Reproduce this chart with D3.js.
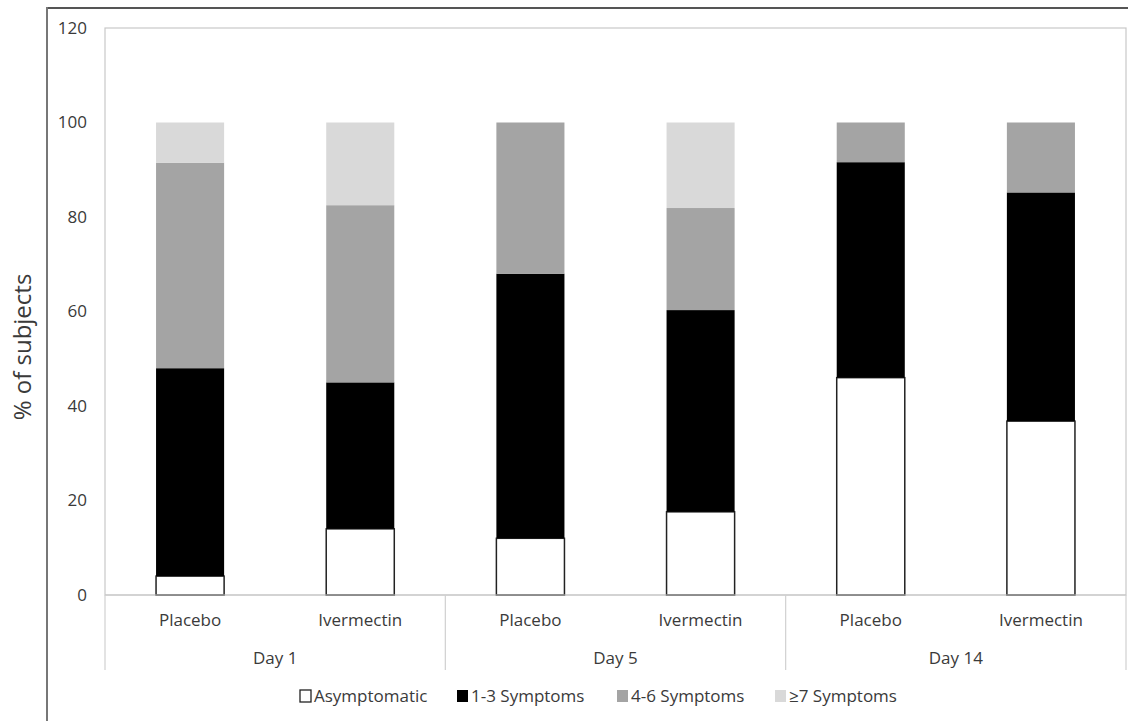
<!DOCTYPE html>
<html><head><meta charset="utf-8">
<script src="https://cdn.jsdelivr.net/npm/d3@7"></script>
<style>body{margin:0;background:#fff}text{font-family:"Open Sans",sans-serif;fill:#3a3a3a}</style>
</head><body><svg id="c" width="1139" height="721"></svg>
<script>
const days = ["Day 1","Day 5","Day 14"];
const arms = ["Placebo","Ivermectin"];
const seriesNames = ["Asymptomatic","1-3 Symptoms","4-6 Symptoms","≥7 Symptoms"];
const asymptomatic = [4, 14, 12, 17.6, 46, 36.8];
const sym1to3 = [44, 31, 56, 42.7, 45.6, 48.4];
const sym4to6 = [43.5, 37.5, 32, 21.6, 8.4, 14.8];
const sym7plus = [8.5, 17.5, 0, 18.1, 0, 0];
const yTicks = [0,20,40,60,80,100,120];
const colors = ["#ffffff","#000000","#a4a4a4","#d9d9d9"];

const svg = d3.select("#c");
const L=105, R=1126, T=28, B=595;
const cats = [];
days.forEach(d=>arms.forEach(a=>cats.push(d+"|"+a)));
const x = d3.scaleBand().domain(cats).range([L,R]).paddingInner(0).paddingOuter(0);
const y = d3.scaleLinear().domain([0,120]).range([B,T]);

// outer frame lines
svg.append("line").attr("x1",47).attr("x2",1128).attr("y1",8).attr("y2",8).attr("stroke","#555").attr("stroke-width",2);
svg.append("line").attr("x1",47).attr("x2",47).attr("y1",7).attr("y2",721).attr("stroke","#777").attr("stroke-width",2);

// plot box
svg.append("rect").attr("x",L).attr("y",T).attr("width",R-L).attr("height",B-T).attr("fill","none").attr("stroke","#c8c8c8").attr("stroke-width",1.2);

// y axis labels
const ya = svg.append("g").attr("transform",`translate(${L},0)`).call(d3.axisLeft(y).tickValues(yTicks).tickSize(0).tickPadding(18));
ya.select(".domain").remove();
ya.selectAll("text").style("font-size","17px").attr("fill","#3a3a3a").style("font-family","Open Sans, sans-serif");

svg.append("text").attr("transform","translate(31,347) rotate(-90)").attr("text-anchor","middle")
  .style("font-size","24px").text("% of subjects");

// stacked data
const rows = cats.map((c,i)=>({cat:c, s0:asymptomatic[i], s1:sym1to3[i], s2:sym4to6[i], s3:sym7plus[i]}));
const stack = d3.stack().keys(["s0","s1","s2","s3"])(rows);
const bw = x.bandwidth()*0.4;
stack.forEach((layer,k)=>{
  svg.append("g").selectAll("rect").data(layer).join("rect")
    .attr("x",d=>x(d.data.cat)+(x.bandwidth()-bw)/2)
    .attr("y",d=>y(d[1]))
    .attr("width",bw)
    .attr("height",d=>Math.max(0,y(d[0])-y(d[1])))
    .attr("fill",colors[k])
    .attr("stroke",k===0?"#222":"none").attr("stroke-width",k===0?1.5:0);
});

// x axis baseline
svg.append("line").attr("x1",L).attr("x2",R).attr("y1",B).attr("y2",B).attr("stroke","#c8c8c8").attr("stroke-width",1.2);
// arm labels
svg.append("g").selectAll("text").data(cats).join("text")
  .attr("x",d=>x(d)+x.bandwidth()/2).attr("y",626).attr("text-anchor","middle")
  .style("font-size","17px").text(d=>d.split("|")[1]);
// day separators
const dayEdges = days.map(d=>x(d+"|"+arms[0])).concat([R]);
svg.append("g").selectAll("line").data(dayEdges).join("line")
  .attr("x1",d=>d).attr("x2",d=>d).attr("y1",B).attr("y2",670).attr("stroke","#d0d0d0").attr("stroke-width",1.2);
svg.append("g").selectAll("text").data(days).join("text")
  .attr("x",(d,i)=>(dayEdges[i]+dayEdges[i+1])/2).attr("y",664).attr("text-anchor","middle")
  .style("font-size","17px").text(d=>d);

// legend
const legX = [300, 457, 617, 775];
const lg = svg.append("g").selectAll("g").data(seriesNames).join("g")
  .attr("transform",(d,i)=>`translate(${legX[i]},690)`);
lg.append("rect").attr("width",11).attr("height",12).attr("y",0)
  .attr("fill",(d,i)=>colors[i]).attr("stroke",(d,i)=>i===0?"#222":"none").attr("stroke-width",1.3);
lg.append("text").attr("x",14).attr("y",12).style("font-size","17px").attr("fill","#222").text(d=>d);
</script></body></html>
